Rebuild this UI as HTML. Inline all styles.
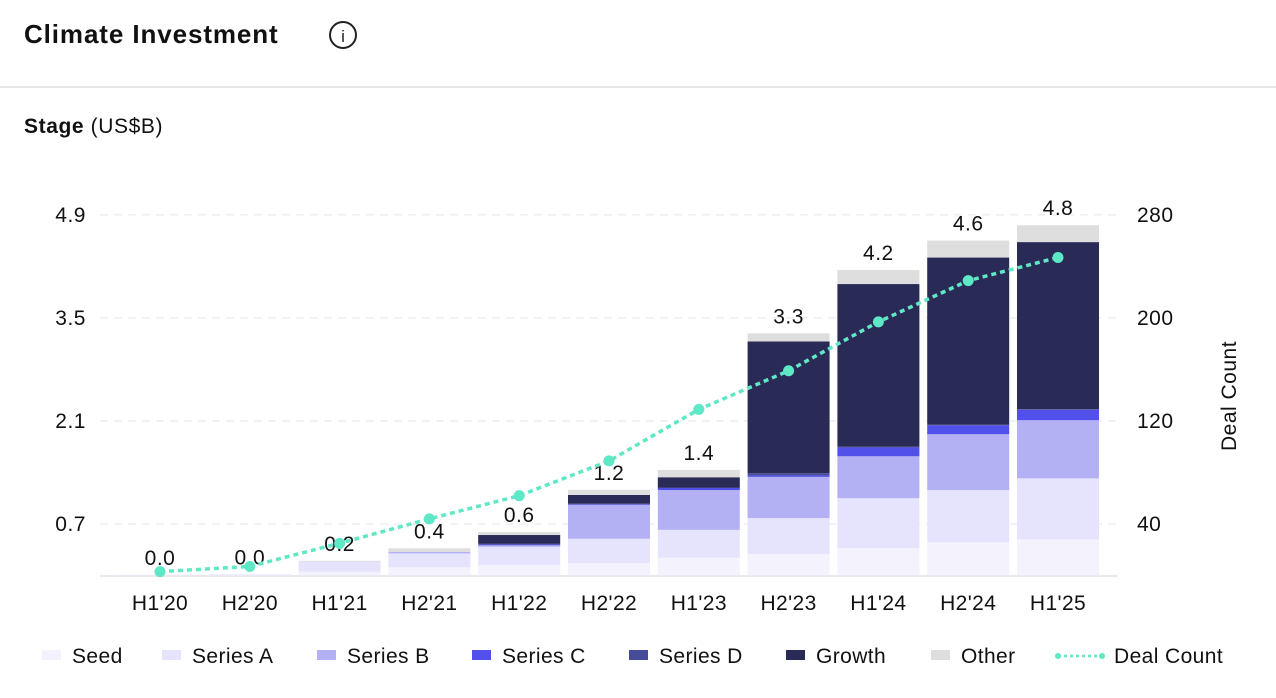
<!DOCTYPE html>
<html><head><meta charset="utf-8"><style>
body{margin:0;background:#fff;font-family:"Liberation Sans",sans-serif;}
svg{display:block}
</style></head><body>
<svg id="chart" width="1276" height="698" viewBox="0 0 1276 698">
<text x="24" y="43" font-size="26" font-weight="bold" letter-spacing="0.9" fill="#111">Climate Investment</text>
<g><circle cx="343" cy="35" r="13" fill="none" stroke="#222" stroke-width="2"/><text x="343" y="42" font-size="17" text-anchor="middle" fill="#222">i</text></g>
<line x1="0" y1="87" x2="1276" y2="87" stroke="#ddd" stroke-width="1.5"/>
<text x="24" y="133" font-size="21" letter-spacing="0.6" fill="#111"><tspan font-weight="bold">Stage</tspan> (US$B)</text>
<text transform="translate(1236,396) rotate(-90)" font-size="21" letter-spacing="0.5" text-anchor="middle" fill="#111">Deal Count</text>
<g id="grid"></g><g id="bars"></g><g id="line"></g><g id="legend"></g>
</svg>
<script>
const categories=["H1'20","H2'20","H1'21","H2'21","H1'22","H2'22","H1'23","H2'23","H1'24","H2'24","H1'25"];
const seed=[0.005,0.005,0.05,0.11,0.14,0.17,0.24,0.29,0.37,0.45,0.49];
const seriesA=[0.005,0.01,0.14,0.19,0.25,0.33,0.38,0.49,0.68,0.71,0.83];
const seriesB=[0,0,0,0.02,0.02,0.46,0.54,0.56,0.57,0.76,0.79];
const seriesC=[0,0,0,0,0.01,0.01,0.03,0.02,0.12,0.12,0.14];
const seriesD=[0,0,0,0,0.01,0.005,0.005,0.03,0.01,0.01,0.01];
const growth=[0,0,0,0,0.12,0.12,0.14,1.79,2.21,2.27,2.27];
const other=[0,0,0.01,0.05,0.04,0.07,0.1,0.11,0.19,0.23,0.23];
const totalLabels=["0.0","0.0","0.2","0.4","0.6","1.2","1.4","3.3","4.2","4.6","4.8"];
const dealCount=[3,7,25,44,62,89,129,159,197,229,247];
const leftTicks=[0.7,2.1,3.5,4.9];
const rightTicks=[40,120,200,280];
const NS="http://www.w3.org/2000/svg";
const y0=575.5;
const yL=v=>y0-v*73.6;
const yR=c=>y0-c*1.2875;
const xC=i=>160+i*89.8;
function mk(tag,attrs,parent){const e=document.createElementNS(NS,tag);for(const k in attrs)e.setAttribute(k,attrs[k]);parent.appendChild(e);return e;}
const FS=21;
const grid=document.getElementById('grid');
leftTicks.forEach((t,i)=>{
 const l=mk('line',{x1:100,x2:1118,y1:yL(t),y2:yL(t),stroke:'#e6e6e6','stroke-dasharray':'8,6'},grid);
 
 
 const tx=mk('text',{x:86,y:yL(t)+7,'font-size':FS,'text-anchor':'end',fill:'#111','letter-spacing':0.5},grid);tx.textContent=t.toFixed(1);
 
 
 const r=rightTicks[i];
 const tr=mk('text',{x:1137,y:yR(r)+7,'font-size':FS,fill:'#111','letter-spacing':0.5},grid);tr.textContent=r;
 
 
});
const base=mk('line',{x1:100,x2:1118,y1:576,y2:576,stroke:'#e2e2e2','stroke-width':1.5},grid);


const series=[seed,seriesA,seriesB,seriesC,seriesD,growth,other];
const colors=['#f3f2fd','#e6e4fd','#b3b0f3','#5150ea','#474c99','#292a56','#dedede'];
const names=['Seed','Series A','Series B','Series C','Series D','Growth','Other'];
const bars=document.getElementById('bars');
categories.forEach((c,i)=>{
 let cum=0;
 series.forEach((s,k)=>{
  const v=s[i];if(v<=0)return;
  const r=mk('rect',{x:xC(i)-41,width:82,y:yL(cum+v),height:Math.max(v*73.6,0.5),fill:colors[k]},bars);
  
  
  cum+=v;
 });
 const t=mk('text',{x:xC(i),y:yL(cum)-10,'font-size':FS,'text-anchor':'middle',fill:'#111','letter-spacing':0.5},bars);t.textContent=totalLabels[i];
 
 
 const xl=mk('text',{x:xC(i),y:610,'font-size':FS,'text-anchor':'middle',fill:'#111','letter-spacing':0.4},bars);xl.textContent=c;
 
 
});
const lg=document.getElementById('line');
const pts=dealCount.map((d,i)=>xC(i)+','+yR(d)).join(' ');
const pl=mk('polyline',{points:pts,fill:'none',stroke:'#5ee8c5','stroke-width':3.5,'stroke-dasharray':'5,4'},lg);


dealCount.forEach((d,i)=>{
 const c=mk('circle',{cx:xC(i),cy:yR(d),r:5.5,fill:'#5ee8c5'},lg);
 
 
});
const leg=document.getElementById('legend');
const legX=[42,162,317,472,629,786,931];
names.forEach((n,k)=>{
 const g=mk('g',{},leg);
 
 
 mk('rect',{x:legX[k],y:650,width:19,height:10,fill:colors[k]},g);
 const t=mk('text',{x:legX[k]+30,y:663,'font-size':FS,fill:'#111','letter-spacing':0.4},g);t.textContent=n;
});
const gd=mk('g',{},leg);


mk('line',{x1:1058,x2:1102,y1:656,y2:656,stroke:'#5ee8c5','stroke-width':2.5,'stroke-dasharray':'3,3'},gd);
mk('circle',{cx:1058,cy:656,r:3,fill:'#5ee8c5'},gd);
mk('circle',{cx:1102,cy:656,r:3,fill:'#5ee8c5'},gd);
const td=mk('text',{x:1114,y:663,'font-size':FS,fill:'#111','letter-spacing':0.4},gd);td.textContent='Deal Count';
</script>
</body></html>
